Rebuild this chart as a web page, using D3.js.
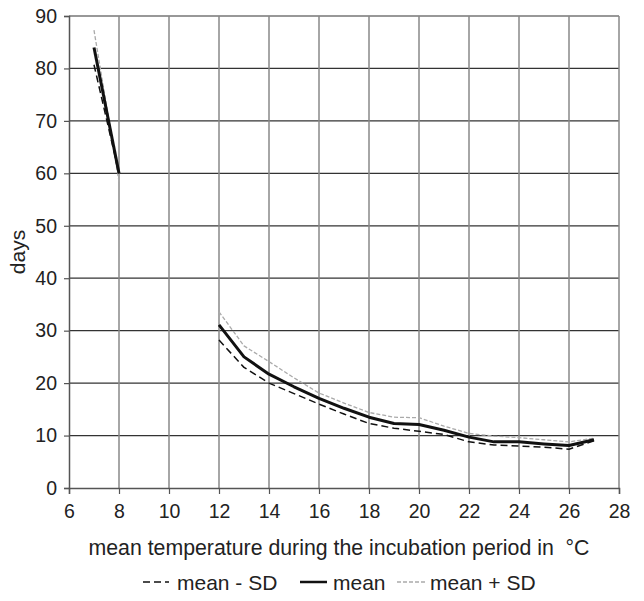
<!DOCTYPE html>
<html><head><meta charset="utf-8">
<script src="https://cdn.jsdelivr.net/npm/d3@7"></script>
<style>body{margin:0;background:#fff}svg{display:block}text{font-family:"Liberation Sans",Arial,sans-serif;fill:#222}</style>
</head><body><svg id="c" width="644" height="601"></svg>
<script>
const tempsA = [7, 8];
const meanA = [84.0, 60.0];
const minusA = [80.7, 60.0];
const plusA = [87.3, 58.4];
const tempsB = [12,13,14,15,16,17,18,19,20,21,22,23,24,25,26,27];
const meanB = [31.1,25.0,21.7,19.3,17.1,15.2,13.5,12.3,12.1,11.0,9.7,8.8,8.8,8.4,8.1,9.2];
const plusB = [33.6,27.1,24.1,21.0,18.1,16.2,14.4,13.5,13.4,11.8,10.4,9.9,9.6,9.2,8.8,9.5];
const minusB = [28.2,23.0,20.0,18.0,16.0,14.1,12.3,11.4,10.8,10.2,8.8,8.2,8.0,7.8,7.4,9.0];
const xTicks = [6,8,10,12,14,16,18,20,22,24,26,28];
const yTicks = [0,10,20,30,40,50,60,70,80,90];
const xTitle = "mean temperature during the incubation period in  °C";
const yTitle = "days";
const legendLabels = ["mean - SD","mean","mean + SD"];

const svg = d3.select("#c");
const x = d3.scaleLinear().domain([6,28]).range([69,619]);
const y = d3.scaleLinear().domain([0,90]).range([488,16]);

svg.append("g").selectAll("line").data(yTicks.filter(d=>d>0)).join("line")
  .attr("x1",x(6)).attr("x2",x(28)).attr("y1",d=>y(d)).attr("y2",d=>y(d))
  .attr("stroke","#333").attr("stroke-width",1.2);
svg.append("g").selectAll("line").data(xTicks.filter(d=>d>6)).join("line")
  .attr("y1",y(0)).attr("y2",y(90)).attr("x1",d=>x(d)).attr("x2",d=>x(d))
  .attr("stroke","#888").attr("stroke-width",1.5);

const xAxis = svg.append("g").attr("transform",`translate(0,${y(0)})`)
  .call(d3.axisBottom(x).tickValues(xTicks).tickSize(6).tickPadding(10).tickFormat(d3.format("d")));
const yAxis = svg.append("g").attr("transform",`translate(${x(6)},0)`)
  .call(d3.axisLeft(y).tickValues(yTicks).tickSize(5).tickPadding(7).tickFormat(d3.format("d")));
[xAxis,yAxis].forEach(g=>{
  g.select(".domain").attr("stroke","#555").attr("stroke-width",1.5);
  g.selectAll(".tick line").attr("stroke","#555").attr("stroke-width",1.2);
  g.selectAll(".tick text").attr("font-size",19.5).attr("fill","#222")
   .attr("font-family","Liberation Sans, Arial, sans-serif");
});

const line = d3.line().x(d=>x(d[0])).y(d=>y(d[1]));
const styles = {
  minus: {stroke:"#111", w:1.5, dash:"7,4"},
  mean: {stroke:"#111", w:3, dash:null},
  plus: {stroke:"#aaa", w:1.3, dash:"4,2"}
};
function draw(ts, vals, st){
  svg.append("path").datum(ts.map((t,i)=>[t,vals[i]])).attr("d",line)
    .attr("fill","none").attr("stroke",st.stroke).attr("stroke-width",st.w)
    .attr("stroke-dasharray",st.dash).attr("stroke-linejoin","round");
}
draw(tempsA, plusA, styles.plus); draw(tempsB, plusB, styles.plus);
draw(tempsA, minusA, styles.minus); draw(tempsB, minusB, styles.minus);
draw(tempsA, meanA, styles.mean); draw(tempsB, meanB, styles.mean);

svg.append("text").attr("x",339).attr("y",555).attr("text-anchor","middle")
  .attr("font-size",21.3).attr("xml:space","preserve").style("white-space","pre").text(xTitle);
svg.append("text").attr("transform","translate(25,252) rotate(-90)").attr("text-anchor","middle")
  .attr("font-size",21).text(yTitle);

const leg = [
  {st:styles.minus, x1:143, x2:169, tx:177, w:100, label:legendLabels[0]},
  {st:styles.mean, x1:300, x2:327, tx:333, w:50, label:legendLabels[1]},
  {st:styles.plus, x1:397, x2:427, tx:430, w:103, label:legendLabels[2]}
];
leg.forEach(l=>{
  svg.append("line").attr("x1",l.x1).attr("x2",l.x2).attr("y1",582).attr("y2",582)
    .attr("stroke",l.st.stroke).attr("stroke-width",l.st.w===3?2.5:l.st.w).attr("stroke-dasharray",l.st.dash);
  svg.append("text").attr("x",l.tx).attr("y",590).attr("font-size",21).text(l.label);
});
</script></body></html>
